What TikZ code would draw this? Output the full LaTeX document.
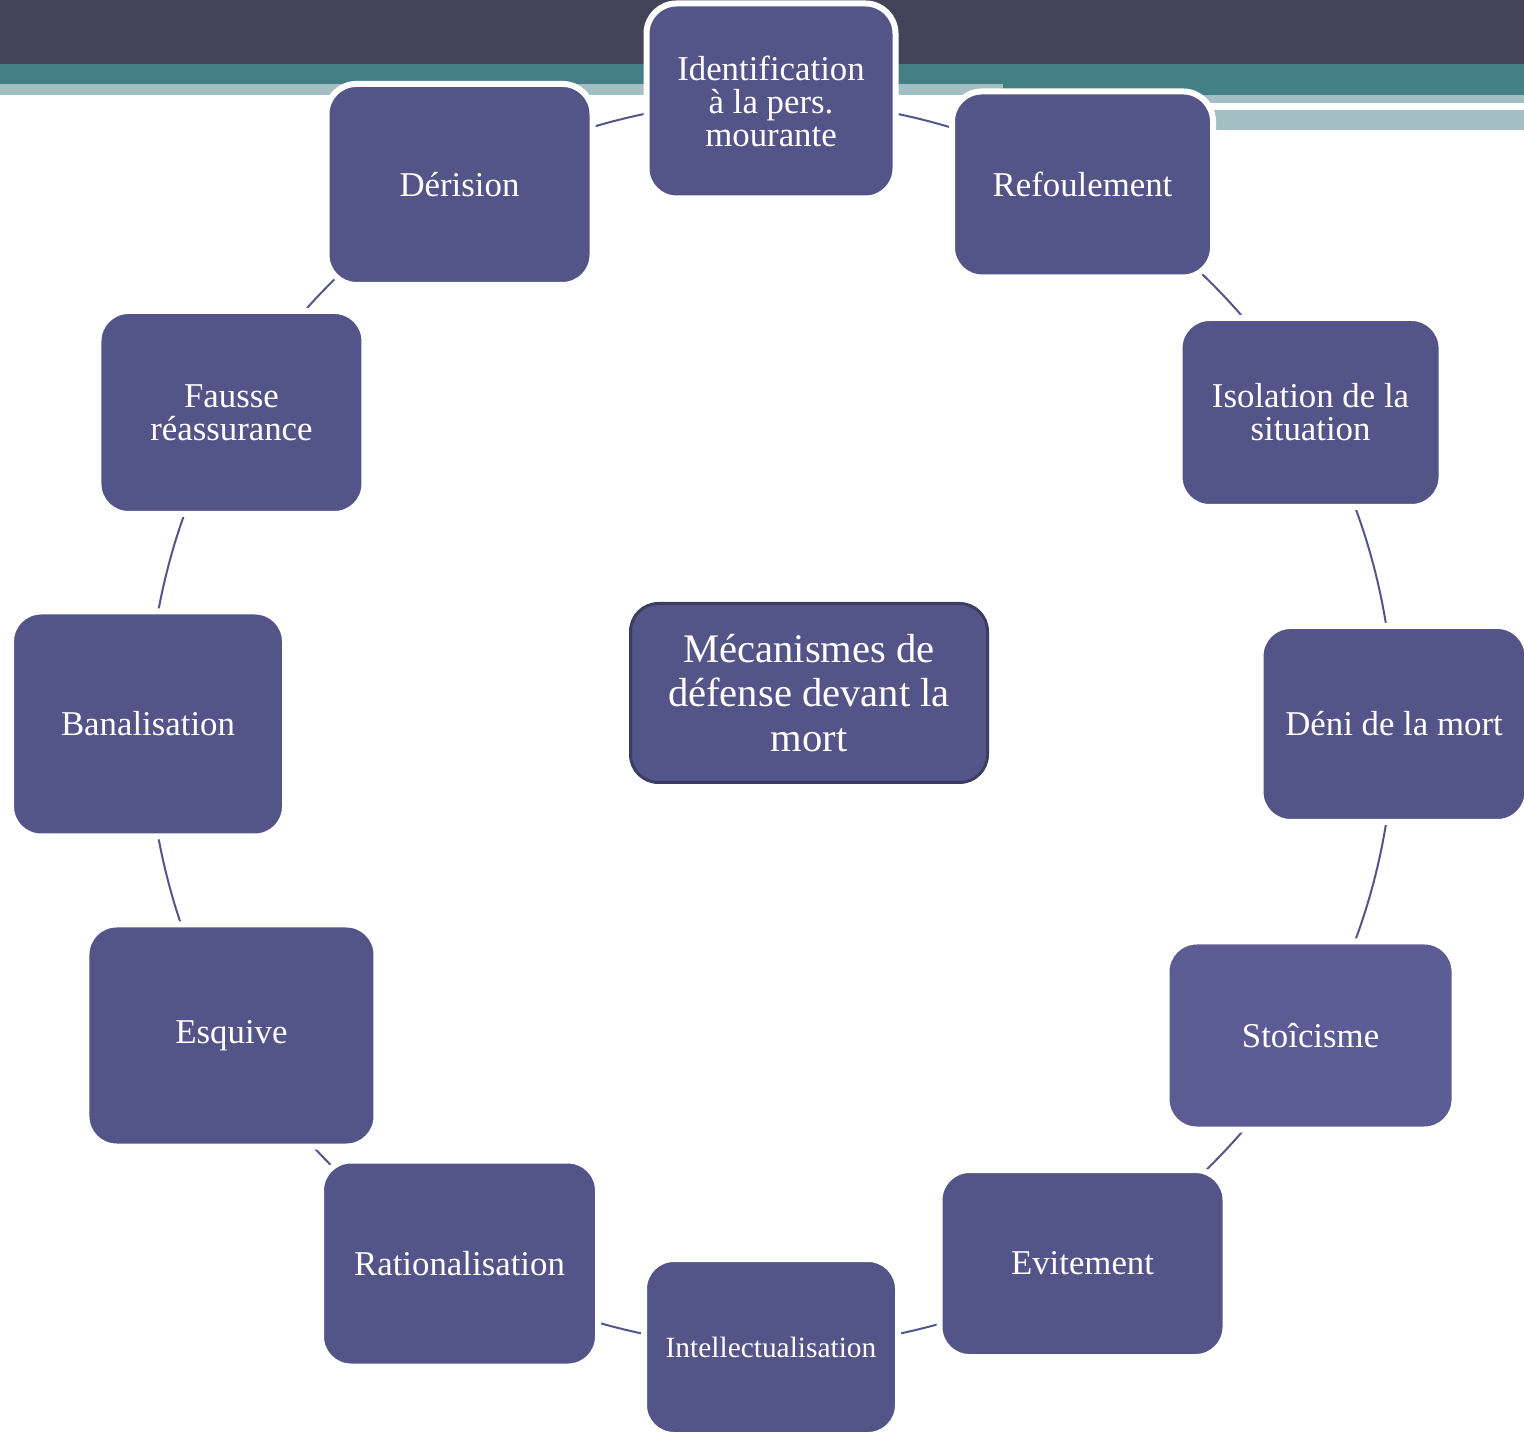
\documentclass[tikz,border=0pt]{standalone}
\usepackage{fontspec}
\setmainfont{Liberation Serif}
\usetikzlibrary{backgrounds}
\definecolor{bandDark}{HTML}{424357}
\definecolor{bandTeal}{HTML}{447F86}
\definecolor{bandLight}{HTML}{A3BFC3}
\definecolor{boxFill}{HTML}{535588}
\definecolor{boxFillLight}{HTML}{5C5C94}
\definecolor{boxEdge}{HTML}{3D3D63}
\tikzset{
  mechbox/.style={
    draw=white, line width=3pt, fill=boxFill,
    rounded corners=15pt, text=white, align=center,
    font=\fontsize{17.4}{16.5}\selectfont, inner sep=2pt
  },
  centrebox/.style={
    draw=boxEdge, line width=1.5pt, fill=boxFill,
    rounded corners=14pt, text=white, align=center,
    font=\fontsize{20.3}{22.25}\selectfont
  },
  ringlink/.style={
    draw=boxFill, line width=1pt, bend left=15, looseness=0.87
  }
}

\begin{document}
\begin{tikzpicture}[x=0.5pt,y=0.5pt]
\useasboundingbox (0,0) rectangle (1524,1440);
% bandeau
\fill[bandDark] (0,1440) rectangle (1524,1376);
\fill[bandTeal] (0,1376) rectangle (1524,1356);
\fill[bandTeal] (1003,1356) rectangle (1524,1345);
\fill[bandLight] (0,1356) rectangle (1003,1345);
\fill[bandLight] (1003,1345) rectangle (1524,1337);
\fill[bandLight] (1213,1330) rectangle (1524,1310);

\begin{scope}[shift={(771,716)}]
\node[centrebox, minimum width=178.5pt, minimum height=89.5pt] (meca) at (38,31)
  {Mécanismes de\\défense devant la\\mort};

\node[mechbox, minimum width=124.5pt, minimum height=97.5pt] (ident) at (90:623)
  {Identification\\à la pers.\\mourante};
\node[mechbox, minimum width=130.5pt, minimum height=93pt] (refoul) at (60:623) {Refoulement};
\node[mechbox, minimum width=131pt, minimum height=94.5pt] (isol) at (30:623)
  {Isolation de la\\situation};
\node[mechbox, minimum width=133.5pt, minimum height=98pt] (deni) at (0:623) {Déni de la mort};
\node[mechbox, fill=boxFillLight, minimum width=144pt, minimum height=94pt] (stoic) at (-30:623) {Stoîcisme};
\node[mechbox, minimum width=143pt, minimum height=93.5pt] (evit) at (-60:623) {Evitement};
\node[mechbox, minimum width=127pt, minimum height=88pt, font=\fontsize{14.7}{16}\selectfont] (intel) at (-90:623)
  {Intellectualisation};
\node[mechbox, minimum width=138.5pt, minimum height=103pt] (ration) at (-120:623) {Rationalisation};
\node[mechbox, minimum width=145pt, minimum height=111pt] (esquive) at (-150:623) {Esquive};
\node[mechbox, minimum width=137pt, minimum height=112.5pt] (banal) at (180:623) {Banalisation};
\node[mechbox, minimum width=133pt, minimum height=101.5pt] (fausse) at (150:623)
  {Fausse\\réassurance};
\node[mechbox, minimum width=133pt, minimum height=100.5pt] (deris) at (120:623) {Dérision};
\end{scope}

% liens du cercle
\begin{scope}[on background layer]
\foreach \a/\b in {ident/refoul, refoul/isol, isol/deni, deni/stoic, stoic/evit, evit/intel,
    intel/ration, ration/esquive, esquive/banal, banal/fausse, fausse/deris, deris/ident}
  \draw[ringlink] (\a.center) to (\b.center);
\end{scope}
\end{tikzpicture}
\end{document}
